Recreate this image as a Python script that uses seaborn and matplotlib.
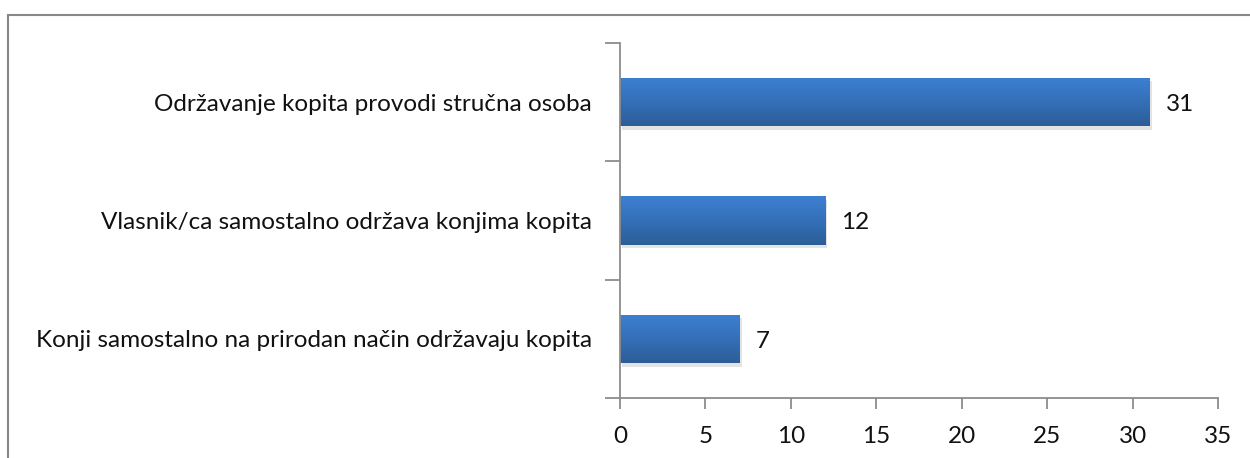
import numpy as np
import pandas as pd
import matplotlib
matplotlib.use("Agg")
import matplotlib.pyplot as plt
import matplotlib.patheffects as pe
from matplotlib.colors import LinearSegmentedColormap
from matplotlib.patches import Rectangle
import seaborn as sns

categories = [
    "Održavanje kopita provodi stručna osoba",
    "Vlasnik/ca samostalno održava konjima kopita",
    "Konji samostalno na prirodan način održavaju kopita",
]
values = [31, 12, 7]
x_ticks = [0, 5, 10, 15, 20, 25, 30, 35]

sns.set_theme(style="white")
plt.rcParams["font.family"] = ["Lato", "DejaVu Sans"]

df = pd.DataFrame({"category": categories, "value": values})

fig = plt.figure(figsize=(12.5, 4.58), dpi=100)
ax = fig.add_axes([620 / 1250, 1 - 398 / 458, (1218 - 620) / 1250, (398 - 43) / 458])

sns.barplot(data=df, x="value", y="category", orient="h", ax=ax,
            color="#3A78C8", width=0.41, saturation=1, linewidth=0)

# vertical blue gradient + soft drop shadow on each bar
grad = LinearSegmentedColormap.from_list("bar", ["#3D7FD2", "#3470B8", "#2C5D98"])
for i, patch in enumerate(ax.patches):
    x0, y0 = patch.get_x(), patch.get_y()
    w, h = patch.get_width(), patch.get_height()
    patch.set_linewidth(0)
    patch.set_path_effects([pe.SimplePatchShadow(offset=(1.5, -2.5), shadow_rgbFace="#b0b0b0", alpha=0.35),
                            pe.Normal()])
    img = ax.imshow(np.linspace(0, 1, 64).reshape(-1, 1), cmap=grad, aspect="auto",
                    extent=(x0, x0 + w, y0 + h, y0), zorder=patch.get_zorder() + 0.1,
                    interpolation="bilinear")
    img.set_clip_path(patch)
    ax.text(x0 + w + 0.95, y0 + h / 2 + 0.02, str(values[i]), va="center", ha="left",
            fontsize=17.5, color="#111111")

ax.set_xlim(0, 35)
ax.set_ylim(2.5, -0.5)
ax.set_xticks(x_ticks)
ax.set_xticklabels([str(t) for t in x_ticks])
ax.set_yticks([0, 1, 2])
ax.set_yticklabels(categories)
ax.set_yticks([-0.5, 0.5, 1.5, 2.5], minor=True)
ax.set_xlabel("")
ax.set_ylabel("")

axis_grey = "#8c8c8c"
for side in ["top", "right"]:
    ax.spines[side].set_visible(False)
for side in ["left", "bottom"]:
    ax.spines[side].set_visible(True)
    ax.spines[side].set_color(axis_grey)
    ax.spines[side].set_linewidth(1.3)

ax.tick_params(axis="y", which="major", length=0, pad=20, labelsize=17.5, labelcolor="#111111")
ax.tick_params(axis="y", which="minor", left=True, length=11, width=1.3, color=axis_grey)
ax.tick_params(axis="x", which="major", bottom=True, length=8, width=1.3, color=axis_grey,
               pad=12, labelsize=17.5, labelcolor="#111111")

# chart frame
fig.patches.append(Rectangle((8 / 1250, -0.1), 1.2, 1 - 15 / 458 + 0.1,
                             transform=fig.transFigure, fill=False,
                             edgecolor="#878787", linewidth=1.5))

fig.savefig("out.png", dpi=100, facecolor="white")
